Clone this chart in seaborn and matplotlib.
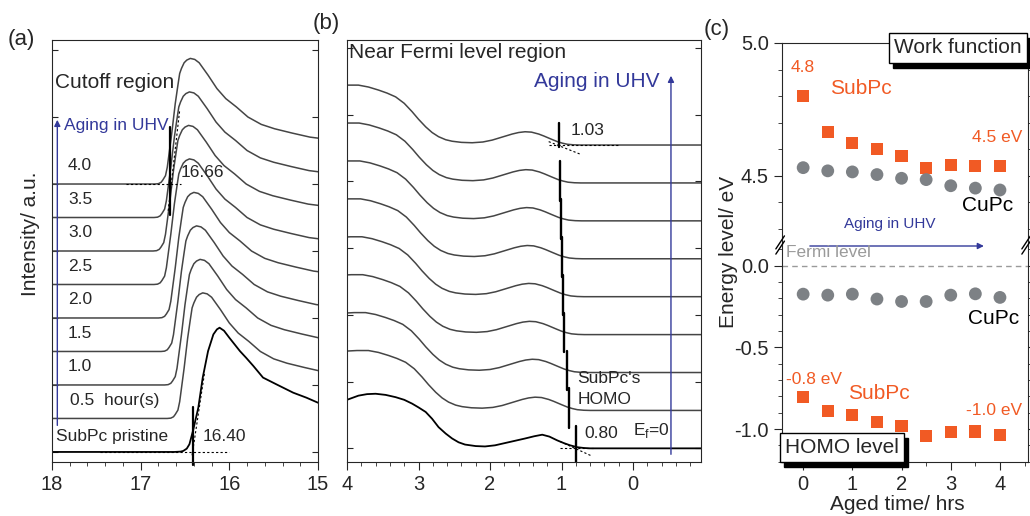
import numpy as np
import pandas as pd
import matplotlib
matplotlib.use("Agg")
import matplotlib.pyplot as plt
import seaborn as sns
from matplotlib.ticker import MultipleLocator
from matplotlib.patches import Rectangle

sns.set_style("ticks")
plt.rcParams['font.family'] = ['Liberation Sans', 'DejaVu Sans']
plt.rcParams['mathtext.fontset'] = 'custom'
plt.rcParams['mathtext.rm'] = 'Liberation Sans'

BLUE = '#33399a'
ORANGE = '#f15a24'
GREY = '#7d8185'
TRACE = '#454545'

# ---- (a) secondary electron cutoff ----
# aged spectra: shape, x relative to the peak position
cut_dx = [1.9, 0.40, 0.36, 0.33, 0.31, 0.28, 0.26, 0.24, 0.21, 0.17, 0.14, 0.12, 0.10, 0.07, 0.04,
          0.0, -0.05, -0.10, -0.2, -0.3, -0.4, -0.52, -0.65, -0.8, -0.95, -1.15, -1.35, -1.5]
cut_h = [0.0, 0.0, 0.01, 0.05, 0.12, 0.25, 0.5, 0.9, 1.5, 2.4, 2.95, 3.3, 3.45, 3.62, 3.7,
         3.75, 3.72, 3.62, 3.25, 2.85, 2.55, 2.3, 2.0, 1.78, 1.65, 1.52, 1.40, 1.35]
cut_peak = [16.30, 16.33, 16.37, 16.40, 16.45, 16.46, 16.45, 16.44]
# pristine spectrum
cut_x_pr = [18.0, 16.62, 16.55, 16.52, 16.48, 16.45, 16.41, 16.35, 16.30, 16.24, 16.18, 16.14, 16.11,
            16.06, 16.0, 15.88, 15.81, 15.73, 15.62, 15.47, 15.28, 15.13, 15.0]
cut_h_pr = [0.0, 0.0, 0.01, 0.03, 0.1, 0.23, 0.63, 1.32, 2.22, 3.01, 3.51, 3.66, 3.71,
            3.62, 3.41, 3.01, 2.81, 2.57, 2.22, 2.02, 1.77, 1.62, 1.47]
aged_labels = ['0.5  hour(s)', '1.0', '1.5', '2.0', '2.5', '3.0', '3.5', '4.0']

# ---- (b) near Fermi level ----
homo_x = [4.3, 4.0, 3.84, 3.70, 3.56, 3.44, 3.32, 3.20, 3.09, 3.0, 2.90, 2.81, 2.72, 2.62, 2.53, 2.40,
          2.25, 2.10, 1.97, 1.83, 1.69, 1.60, 1.51, 1.42, 1.32, 1.25, 1.15, 1.06, 0.99, 0.92, 0.83, 0.74, -1.2]
homo_h = [1.55, 1.58, 1.58, 1.53, 1.45, 1.37, 1.27, 1.10, 0.88, 0.68, 0.48, 0.33, 0.22, 0.14, 0.10, 0.07,
          0.06, 0.08, 0.13, 0.21, 0.29, 0.33, 0.35, 0.34, 0.29, 0.24, 0.16, 0.09, 0.05, 0.02, 0.005, 0.0, 0.0]
homo_x_pr = [4.1, 4.0, 3.84, 3.72, 3.60, 3.46, 3.32, 3.20, 3.09, 3.0, 2.90, 2.81, 2.72, 2.62, 2.53, 2.44,
             2.35, 2.20, 2.07, 1.93, 1.79, 1.65, 1.51, 1.38, 1.27, 1.17, 1.06, 0.97, 0.88, 0.78, 0.69, 0.60, -1.2]
homo_h_pr = [1.22, 1.28, 1.39, 1.43, 1.44, 1.41, 1.35, 1.28, 1.18, 1.08, 0.96, 0.78, 0.56, 0.39, 0.26, 0.16,
             0.10, 0.06, 0.05, 0.08, 0.14, 0.20, 0.26, 0.32, 0.36, 0.31, 0.21, 0.14, 0.08, 0.03, 0.01, 0.0, 0.0]
homo_onset = [0.80, 0.89, 0.93, 0.97, 0.98, 1.00, 1.01, 1.02, 1.03]

# ---- (c) energy levels vs aging time ----
hours = [0, 0.5, 1, 1.5, 2, 2.5, 3, 3.5, 4]
wf_subpc = [4.80, 4.664, 4.623, 4.600, 4.576, 4.531, 4.541, 4.538, 4.536]
wf_cupc = [4.531, 4.519, 4.515, 4.505, 4.491, 4.486, 4.463, 4.454, 4.447]
homo_cupc = [-0.174, -0.180, -0.174, -0.204, -0.219, -0.219, -0.180, -0.172, -0.194]
homo_subpc = [-0.802, -0.888, -0.916, -0.957, -0.980, -1.041, -1.020, -1.016, -1.035]

W, H = 1030, 516
fig = plt.figure(figsize=(W / 100, H / 100), dpi=100)


def fx(px):
    return px / W


def fy(py):
    return 1 - py / H


ax_a = fig.add_axes([fx(52), fy(462), fx(266), (462 - 40) / H])
ax_b = fig.add_axes([fx(347), fy(462), fx(354), (462 - 40) / H])
ax_up = fig.add_axes([fx(782), fy(245), fx(246), (245 - 43) / H])
ax_lo = fig.add_axes([fx(782), fy(462), fx(246), (462 - 245) / H])

# ---------- panel (a) ----------
rows = []
for j, xv in enumerate(cut_x_pr):
    rows.append(('pristine', xv, cut_h_pr[j]))
for i, pk in enumerate(cut_peak):
    for j, d in enumerate(cut_dx):
        rows.append((aged_labels[i], pk + d, (i + 1) + cut_h[j]))
df_a = pd.DataFrame(rows, columns=['trace', 'energy', 'intensity'])
for name, g in df_a.groupby('trace', sort=False):
    sns.lineplot(x=g['energy'].values, y=g['intensity'].values, sort=False, estimator=None, ax=ax_a,
                 color='black' if name == 'pristine' else TRACE, lw=1.3 if name == 'pristine' else 1.1)

ax_a.set_xlim(18, 15)
ax_a.set_ylim(-0.3, 12.3)
ax_a.xaxis.set_major_locator(MultipleLocator(1))
ax_a.xaxis.set_minor_locator(MultipleLocator(0.2))
ax_a.set_yticks(np.arange(0, 13, 2))
ax_a.set_yticklabels([])
ax_a.tick_params(axis='x', which='both', direction='out', labelsize=14.5, top=False)
ax_a.tick_params(axis='x', which='major', length=6)
ax_a.tick_params(axis='x', which='minor', length=3)
ax_a.tick_params(axis='y', direction='in', length=4, right=True)

for i, lab in enumerate(aged_labels):
    ax_a.text(17.82 if i > 0 else 17.80, i + 1.55, lab, fontsize=12.5, va='center', ha='left')
ax_a.text(17.96, 0.45, 'SubPc pristine', fontsize=12.5, va='center', ha='left')
ax_a.text(17.97, 11.04, 'Cutoff region', fontsize=15, va='center', ha='left')
ax_a.text(17.86, 9.76, 'Aging in UHV', fontsize=12.5, va='center', ha='left', color=BLUE)
ax_a.annotate('', xy=(17.94, 10.0), xytext=(17.94, 0.71),
              arrowprops=dict(arrowstyle='-|>', color=BLUE, lw=1, mutation_scale=9))
# cutoff construction lines
ax_a.plot([16.665, 16.665], [7.07, 9.71], color='black', lw=1.6)
ax_a.plot([17.16, 16.54], [8.0, 8.0], color='black', lw=0.8, ls=(0, (2, 2)))
ax_a.plot([16.69, 16.56], [7.2, 10.2], color='black', lw=0.8, ls=(0, (2, 2)))
ax_a.text(16.55, 8.33, '16.66', fontsize=12.5, va='center', ha='left')
ax_a.plot([16.41, 16.41], [-0.4, 1.35], color='black', lw=1.6, clip_on=False)
ax_a.plot([17.46, 16.0], [0.0, 0.0], color='black', lw=0.8, ls=(0, (2, 2)))
ax_a.plot([16.42, 16.28], [-0.1, 2.35], color='black', lw=0.8, ls=(0, (2, 2)))
ax_a.text(16.30, 0.45, '16.40', fontsize=12.5, va='center', ha='left')

# ---------- panel (b) ----------
rows = []
for k, onset in enumerate(homo_onset):
    if k == 0:
        for j, xv in enumerate(homo_x_pr):
            rows.append((k, xv, homo_h_pr[j]))
    else:
        for j, xv in enumerate(homo_x):
            rows.append((k, xv + (onset - homo_onset[-1]), k + homo_h[j]))
df_b = pd.DataFrame(rows, columns=['trace', 'energy', 'intensity'])
for k, g in df_b.groupby('trace'):
    sns.lineplot(x=g['energy'].values, y=g['intensity'].values, sort=False, estimator=None, ax=ax_b,
                 color='black' if k == 0 else TRACE, lw=1.3 if k == 0 else 1.1)

ax_b.set_xlim(4, -0.95)
ax_b.set_ylim(-0.36, 10.77)
ax_b.xaxis.set_major_locator(MultipleLocator(1))
ax_b.xaxis.set_minor_locator(MultipleLocator(0.2))
ax_b.set_yticks(np.arange(0, 10.8, 1.76))
ax_b.set_yticklabels([])
ax_b.tick_params(axis='x', which='both', direction='out', labelsize=14.5)
ax_b.tick_params(axis='x', which='major', length=6)
ax_b.tick_params(axis='x', which='minor', length=3)
ax_b.tick_params(axis='y', direction='in', length=4, right=True)

for k, onset in enumerate(homo_onset):
    lo, hi = (k - 0.05, k + 0.58) if k == len(homo_onset) - 1 else (k - 0.47, k + 0.58)
    ax_b.plot([onset, onset], [lo, hi], color='black', lw=1.7)
ax_b.plot([1.18, 0.21], [8, 8], color='black', lw=0.8, ls=(0, (2, 2)))
ax_b.plot([1.18, 0.74], [8.09, 7.76], color='black', lw=0.8, ls=(0, (2, 2)))
ax_b.plot([1.02, 0.54], [0, 0], color='black', lw=0.8, ls=(0, (2, 2)))
ax_b.plot([1.02, 0.58], [0.18, -0.2], color='black', lw=0.8, ls=(0, (2, 2)))
ax_b.text(3.97, 10.43, 'Near Fermi level region', fontsize=15, va='center', ha='left')
ax_b.text(1.39, 9.67, 'Aging in UHV', fontsize=15, va='center', ha='left', color=BLUE)
ax_b.annotate('', xy=(-0.53, 9.9), xytext=(-0.53, -0.23),
              arrowprops=dict(arrowstyle='-|>', color=BLUE, lw=1, mutation_scale=9))
ax_b.text(0.88, 8.37, '1.03', fontsize=12.5, va='center', ha='left')
ax_b.text(0.78, 1.83, "SubPc's", fontsize=12.5, va='center', ha='left')
ax_b.text(0.78, 1.28, 'HOMO', fontsize=12.5, va='center', ha='left')
ax_b.text(0.68, 0.40, '0.80', fontsize=12.5, va='center', ha='left')
ax_b.text(0.0, 0.48, r'E$_{\mathregular{f}}$=0', fontsize=12.5, va='center', ha='left')

# ---------- panel (c) ----------
sns.scatterplot(x=hours, y=wf_subpc, marker='s', s=78, color=ORANGE, edgecolor='none', ax=ax_up, zorder=3)
sns.scatterplot(x=hours, y=wf_cupc, marker='o', s=85, color=GREY, edgecolor='none', ax=ax_up, zorder=3)
sns.scatterplot(x=hours, y=homo_cupc, marker='o', s=85, color=GREY, edgecolor='none', ax=ax_lo, zorder=3)
sns.scatterplot(x=hours, y=homo_subpc, marker='s', s=78, color=ORANGE, edgecolor='none', ax=ax_lo, zorder=3)

for ax in (ax_up, ax_lo):
    ax.set_xlim(-0.43, 4.57)
    ax.yaxis.set_minor_locator(MultipleLocator(0.1))
    ax.tick_params(axis='y', which='both', direction='out', labelsize=14.5, right=True)
    ax.tick_params(axis='y', which='major', length=6)
    ax.tick_params(axis='y', which='minor', length=3)
ax_up.set_ylim(4.24, 5.0)
ax_up.set_yticks([4.5, 5.0])
ax_up.set_yticklabels(['4.5', '5.0'])
ax_up.spines['bottom'].set_visible(False)
ax_up.tick_params(axis='x', which='both', bottom=False, labelbottom=False)
ax_lo.set_ylim(-1.202, 0.127)
ax_lo.set_yticks([-1.0, -0.5, 0.0])
ax_lo.set_yticklabels(['-1.0', '-0.5', '0.0'])
ax_lo.spines['top'].set_visible(False)
ax_lo.set_xticks([0, 1, 2, 3, 4])
ax_lo.xaxis.set_minor_locator(MultipleLocator(0.5))
ax_lo.tick_params(axis='x', which='both', direction='out', labelsize=14.5)
ax_lo.tick_params(axis='x', which='major', length=6)
ax_lo.tick_params(axis='x', which='minor', length=3)
ax_lo.axhline(0, color='#9a9a9a', lw=1, ls=(0, (4, 3)), zorder=1)

# axis break marks
for xa in (0, 1):
    for dy in (-0.012, 0.012):
        ax_lo.plot([xa - 0.025, xa + 0.01], [1 + dy - 0.03, 1 + dy + 0.03], transform=ax_lo.transAxes,
                   color='black', lw=1, clip_on=False)

ax_up.text(-0.26, 4.906, '4.8', fontsize=12.5, color=ORANGE, va='center', ha='left')
ax_up.text(0.55, 4.83, 'SubPc', fontsize=15, color=ORANGE, va='center', ha='left')
ax_up.text(4.46, 4.643, '4.5 eV', fontsize=12.5, color=ORANGE, va='center', ha='right')
ax_up.text(3.23, 4.39, 'CuPc', fontsize=15, color='black', va='center', ha='left')
ax_up.text(0.83, 4.32, 'Aging in UHV', fontsize=11, color=BLUE, va='center', ha='left')
ax_lo.annotate('', xy=(3.73, fy(246)), xycoords=('data', 'figure fraction'),
               xytext=(0.08, fy(246)), textcoords=('data', 'figure fraction'),
               arrowprops=dict(arrowstyle='-|>', color=BLUE, lw=1, mutation_scale=9))
ax_lo.text(-0.35, 0.084, 'Fermi level', fontsize=12.5, color='#9a9a9a', va='center', ha='left')
ax_lo.text(3.35, -0.326, 'CuPc', fontsize=15, color='black', va='center', ha='left')
ax_lo.text(-0.35, -0.694, '-0.8 eV', fontsize=12.5, color=ORANGE, va='center', ha='left')
ax_lo.text(0.91, -0.78, 'SubPc', fontsize=15, color=ORANGE, va='center', ha='left')
ax_lo.text(4.46, -0.889, '-1.0 eV', fontsize=12.5, color=ORANGE, va='center', ha='right')


def shadow_box(x0, y0, x1, y1, label):
    fig.add_artist(Rectangle((fx(x0 + 4), fy(y1 + 5)), fx(x1 - x0), (y1 - y0) / H,
                             transform=fig.transFigure, fc='black', ec='black', zorder=5))
    fig.add_artist(Rectangle((fx(x0), fy(y1)), fx(x1 - x0), (y1 - y0) / H,
                             transform=fig.transFigure, fc='white', ec='black', lw=1, zorder=6))
    fig.text(fx((x0 + x1) / 2), fy((y0 + y1) / 2), label, fontsize=15, ha='center', va='center', zorder=7)


shadow_box(889, 33, 1027, 63, 'Work function')
shadow_box(780, 433, 904, 462, 'HOMO level')

# axis titles and panel letters
fig.text(fx(30), fy(234), 'Intensity/ a.u.', rotation=90, fontsize=15, ha='center', va='center')
fig.text(fx(728), fy(252), 'Energy level/ eV', rotation=90, fontsize=15, ha='center', va='center')
fig.text(fx(897), fy(505), 'Aged time/ hrs', fontsize=15, ha='center', va='center')
fig.text(fx(8), fy(40), '(a)', fontsize=16, ha='left', va='center')
fig.text(fx(313), fy(23), '(b)', fontsize=16, ha='left', va='center')
fig.text(fx(704), fy(30), '(c)', fontsize=16, ha='left', va='center')

fig.savefig('out.png', dpi=100)
